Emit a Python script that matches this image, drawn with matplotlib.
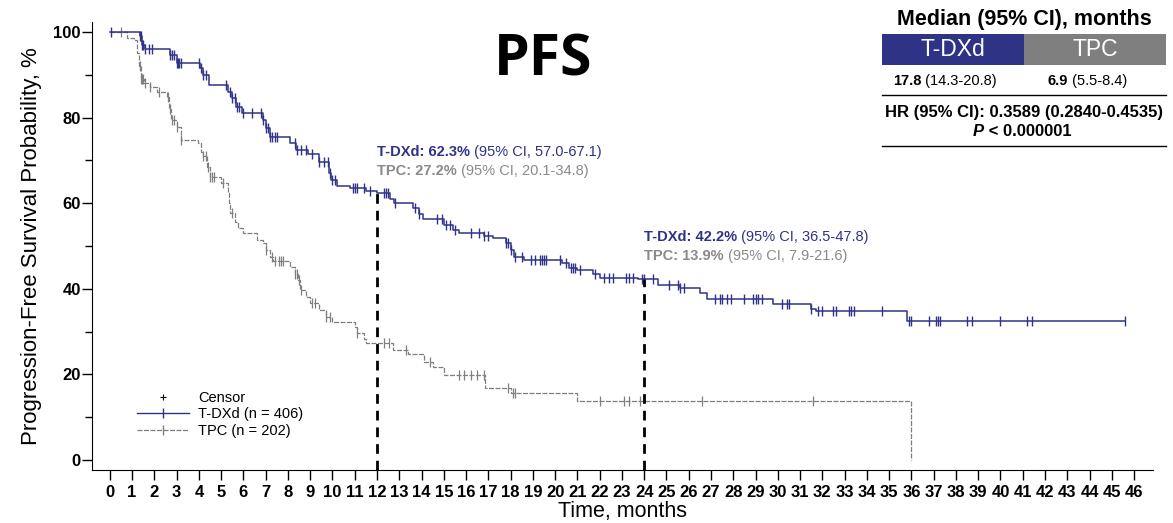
import numpy as np
import matplotlib.pyplot as plt
from matplotlib.lines import Line2D
from matplotlib.patches import Rectangle

plt.rcParams['font.family'] = ['Liberation Sans', 'DejaVu Sans']

NAVY = '#2f3387'
GRAY = '#7f7f7f'
TXT_GRAY = '#8a8a8a'

# Kaplan-Meier steps, T-DXd (months, % surviving after event)
tdxd_t = [0, 1.35, 1.45, 1.6, 2.7, 3.0, 4.05, 4.2, 4.45, 5.3, 5.5, 5.65, 5.95,
          6.9, 7.0, 7.2, 8.1, 8.35, 8.9, 9.4, 9.85, 9.95, 10.2, 10.8, 11.5, 12.0,
          12.6, 12.75, 13.6, 13.9, 14.05, 15.0, 15.4, 15.7, 16.8, 17.2, 17.8, 18.0,
          18.15, 18.6, 20.3, 20.6, 21.0, 21.7, 22.0, 23.7, 24.6, 25.6, 26.5, 26.8,
          29.8, 31.5, 31.7, 35.8]
tdxd_s = [100, 99.0, 97.0, 96.0, 94.6, 92.7, 91.5, 89.9, 87.6, 86.0, 84.5, 82.5, 81.0,
          79.5, 77.5, 75.5, 74.0, 72.4, 71.5, 69.7, 67.0, 65.4, 64.0, 63.5, 62.8, 62.3,
          61.0, 60.0, 58.8, 57.5, 56.3, 55.0, 53.8, 53.0, 52.3, 51.8, 50.6, 49.0,
          47.5, 46.7, 46.0, 44.9, 44.3, 43.5, 42.6, 42.2, 40.9, 40.1, 39.0, 37.6,
          36.4, 35.2, 34.8, 32.4]
tdxd_cens = [0.05, 1.35, 1.4, 1.45, 1.5, 1.6, 1.75, 1.9, 2.7, 2.8, 2.9, 3.0, 3.05, 3.1,
             3.2, 4.0, 4.1, 4.2, 4.3, 5.2, 5.4, 5.5, 5.6, 5.7, 5.8, 6.0, 6.4, 6.8, 6.9,
             7.0, 7.1, 7.2, 7.3, 7.4, 7.5, 8.3, 8.4, 8.6, 8.8, 9.1, 9.4, 9.6, 9.8, 9.9,
             10.0, 10.1, 10.9, 11.0, 11.1, 11.4, 11.7, 12.3, 12.4, 12.5, 12.8, 13.7,
             13.9, 14.7, 14.9, 15.1, 15.3, 15.5, 16.2, 16.6, 16.8, 17.0, 17.8, 17.9,
             18.0, 18.2, 18.5, 18.9, 19.1, 19.3, 19.4, 19.5, 19.6, 20.2, 20.5, 20.7,
             20.8, 20.9, 21.1, 21.8, 22.2, 22.4, 22.6, 23.2, 23.3, 23.5, 23.9, 24.0,
             24.4, 25.1, 25.5, 25.6, 25.8, 27.2, 27.4, 27.5, 27.7, 27.9, 28.5, 28.9,
             29.0, 29.1, 29.3, 30.2, 30.4, 30.5, 31.5, 31.8, 32.0, 32.5, 32.6, 33.2,
             33.3, 33.4, 34.7, 35.9, 36.0, 36.8, 37.1, 37.2, 37.3, 38.5, 38.7, 40.0,
             41.2, 41.4, 45.6]

# Kaplan-Meier steps, TPC
tpc_t = [0, 0.75, 1.1, 1.2, 1.3, 1.4, 1.55, 1.8, 2.1, 2.55, 2.65, 2.75, 3.0, 3.2,
         3.95, 4.1, 4.2, 4.35, 4.5, 5.0, 5.3, 5.35, 5.4, 5.6, 5.75, 6.0, 6.6, 6.9,
         7.0, 7.2, 7.35, 8.1, 8.3, 8.45, 8.55, 8.8, 9.0, 9.4, 9.7, 10.0, 11.0, 11.1,
         11.4, 11.5, 12.7, 13.4, 14.1, 14.5, 15.0, 16.85, 18.0, 21.0, 36.0]
tpc_s = [100, 98.5, 98.0, 95.0, 92.0, 89.0, 88.0, 87.2, 86.0, 84.9, 82.0, 79.5, 77.9, 74.8,
         74.0, 72.0, 70.9, 68.5, 66.2, 64.6, 62.3, 60.0, 57.6, 55.5, 54.3, 53.0, 51.4, 50.6,
         49.1, 47.5, 46.5, 45.2, 43.5, 42.0, 39.7, 38.0, 36.6, 35.0, 33.5, 32.3, 31.0, 29.6,
         28.2, 27.3, 25.7, 24.7, 22.8, 21.8, 19.9, 16.8, 15.6, 13.9, 0]
tpc_cens = [0.5, 1.35, 1.4, 1.45, 1.5, 1.6, 1.8, 2.2, 2.6, 2.7, 2.8, 2.9, 3.0, 3.2,
            4.2, 4.3, 4.4, 4.5, 4.6, 4.7, 5.1, 5.5, 7.0, 7.3, 7.4, 7.6, 7.7, 7.8, 8.3,
            8.4, 8.5, 8.6, 9.1, 9.2, 9.7, 9.9, 11.1, 12.3, 12.55, 13.3, 14.4, 15.7,
            15.9, 16.2, 16.5, 16.8, 17.9, 18.1, 18.2, 22.0, 23.1, 23.3, 23.8, 26.6, 31.6]

x_ticks = list(range(0, 47))
y_ticks = [0, 20, 40, 60, 80, 100]
landmarks = [12, 24]
tdxd_land = [62.3, 42.2]
tpc_land = [27.2, 13.9]
tdxd_ci = ['57.0-67.1', '36.5-47.8']
tpc_ci = ['20.1-34.8', '7.9-21.6']


def km_at(times, surv, x):
    idx = np.searchsorted(times, x, side='right') - 1
    return np.asarray(surv)[idx]


fig = plt.figure(figsize=(11.73, 5.23), dpi=100)
ax = fig.add_axes([92 / 1173, 1 - 470 / 523, 1061 / 1173, 448 / 523])

# curves
t1 = np.append(tdxd_t, max(tdxd_cens))
s1 = np.append(tdxd_s, tdxd_s[-1])
ax.step(t1, s1, where='post', color=NAVY, lw=1.1, zorder=4)
ax.plot(tdxd_cens, km_at(tdxd_t, tdxd_s, tdxd_cens), ls='none', marker='|',
        ms=7, mew=1.0, color=NAVY, zorder=4)

ax.step(tpc_t, tpc_s, where='post', color=GRAY, lw=0.9, dashes=(4, 1.2), zorder=3)
ax.plot(tpc_cens, km_at(tpc_t, tpc_s, tpc_cens), ls='none', marker='|',
        ms=7, mew=0.9, color=GRAY, zorder=3)

# landmark lines
ax.vlines(landmarks, -2.3, tdxd_land, colors='black', lw=2.0,
          linestyles=(0, (3.5, 2.5)), zorder=5)

ax.set_xlim(-0.8, 46.85)
ax.set_ylim(-2.3, 102.3)
ax.set_xticks(x_ticks)
ax.set_yticks(y_ticks)
ax.set_yticks([10, 30, 50, 70, 90], minor=True)
ax.tick_params(axis='both', which='major', length=7, width=1, direction='out',
               labelsize=12)
ax.tick_params(axis='y', which='major', pad=1)
ax.tick_params(axis='y', which='minor', length=5, width=1, direction='out')
for lbl in ax.get_xticklabels() + ax.get_yticklabels():
    lbl.set_fontweight('bold')
ax.spines['top'].set_visible(False)
ax.spines['right'].set_visible(False)
ax.set_ylabel('Progression-Free Survival Probability, %', fontsize=16, labelpad=8)
ax.set_xlabel('Time, months', fontsize=15.5, labelpad=1)

# landmark annotations
for i, (x0, y0) in enumerate([(12, 72.0), (24, 52.1)]):
    a = ax.text(x0, y0, f'T-DXd: {tdxd_land[i]}%', color=NAVY, fontsize=10.5,
                fontweight='bold', va='center')
    ax.annotate(f' (95% CI, {tdxd_ci[i]})', xy=(1, 0.5), xycoords=a, color=NAVY,
                fontsize=10.5, va='center')
    b = ax.text(x0, y0 - 4.4, f'TPC: {tpc_land[i]}%', color=TXT_GRAY, fontsize=10.5,
                fontweight='bold', va='center')
    ax.annotate(f' (95% CI, {tpc_ci[i]})', xy=(1, 0.5), xycoords=b, color=TXT_GRAY,
                fontsize=10.5, va='center')

# legend
handles = [Line2D([], [], ls='none', marker='+', ms=5, mew=0.8, color='black'),
           Line2D([], [], color=NAVY, lw=1.0, marker='|', ms=7),
           Line2D([], [], color=GRAY, lw=0.9, dashes=(4, 1.2), marker='|', ms=7)]
ax.legend(handles, ['Censor', 'T-DXd (n = 406)', 'TPC (n = 202)'],
          loc='upper left', bbox_to_anchor=(0.03, 0.205), frameon=False,
          fontsize=10.5, handlelength=3.6, labelspacing=0.15,
          handletextpad=0.6, numpoints=1)

# overlay for title and table (pixel coordinates)
ov = fig.add_axes([0, 0, 1, 1])
ov.set_xlim(0, 1173)
ov.set_ylim(523, 0)
ov.axis('off')
ov.text(543, 60, 'PFS', fontsize=41, fontweight='bold', family='Open Sans',
        ha='center', va='center')
ov.text(1024, 19, 'Median (95% CI), months', fontsize=15.5, fontweight='bold',
        ha='center', va='center')
ov.add_patch(Rectangle((882, 34), 142, 31, color='#2e3386', lw=0))
ov.add_patch(Rectangle((1024, 34), 142, 31, color='#7f7f7f', lw=0))
ov.text(953, 50, 'T-DXd', color='white', fontsize=16.5, ha='center', va='center')
ov.text(1095, 50, 'TPC', color='white', fontsize=16.5, ha='center', va='center')
m1 = ov.text(893, 81, '17.8', fontsize=10.5, fontweight='bold', va='center')
ov.annotate(' (14.3-20.8)', xy=(1, 0.5), xycoords=m1, fontsize=10.5, va='center')
m2 = ov.text(1048, 81, '6.9', fontsize=10.5, fontweight='bold', va='center')
ov.annotate(' (5.5-8.4)', xy=(1, 0.5), xycoords=m2, fontsize=10.5, va='center')
ov.plot([882, 1166], [95, 95], color='black', lw=1)
ov.text(1024, 112, 'HR (95% CI): 0.3589 (0.2840-0.4535)', fontsize=12,
        fontweight='bold', ha='center', va='center')
p = ov.text(973, 131, 'P', fontsize=12, fontweight='bold', style='italic',
            va='center')
ov.annotate(' < 0.000001', xy=(1, 0.5), xycoords=p, fontsize=12,
            fontweight='bold', va='center')
ov.plot([882, 1166], [146, 146], color='black', lw=1)

fig.savefig('out.png', dpi=100)
